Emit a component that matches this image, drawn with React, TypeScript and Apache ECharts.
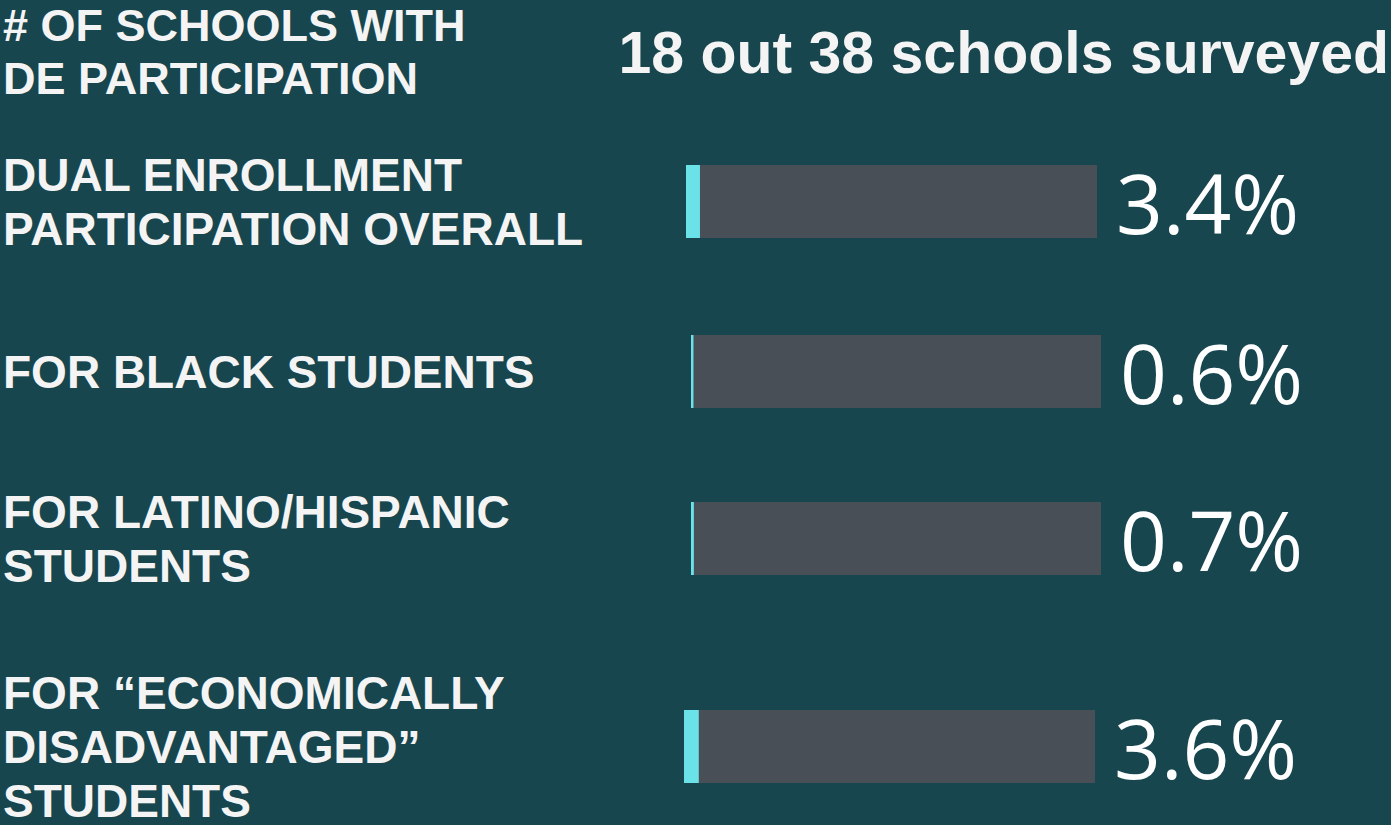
import React, { useEffect, useRef } from "react";
import * as echarts from "echarts";

const categories = [
  "DUAL ENROLLMENT\nPARTICIPATION OVERALL",
  "FOR BLACK STUDENTS",
  "FOR LATINO/HISPANIC\nSTUDENTS",
  "FOR \u201CECONOMICALLY\nDISADVANTAGED\u201D\nSTUDENTS",
];
const values = [3.4, 0.6, 0.7, 3.6];
const axisMax = 100;
const headerLines = ["# OF SCHOOLS WITH", "DE PARTICIPATION"];
const schoolsWithDE = 18;
const schoolsSurveyed = 38;

// layout only
const gridBoxes = [
  { left: 686, top: 165, width: 411 },
  { left: 691, top: 335, width: 410 },
  { left: 691, top: 502, width: 410 },
  { left: 684, top: 710, width: 411 },
];
const BAR_H = 73;

const BG = "#17464f";
const GREY = "#484f57";
const CYAN = "#6ae2e8";
const TEXT = "#f4f4f4";

export default function App() {
  const ref = useRef<HTMLDivElement>(null);
  useEffect(() => {
    if (!ref.current) return;
    const chart = echarts.init(ref.current, undefined, { renderer: "svg" });
    const grids: any[] = [];
    const xAxes: any[] = [];
    const yAxes: any[] = [];
    const series: any[] = [];
    categories.forEach((cat, i) => {
      const g = gridBoxes[i];
      grids.push({
        left: g.left,
        top: g.top,
        width: g.width,
        height: BAR_H,
        outerBoundsMode: "none",
        containLabel: false,
      });
      xAxes.push({
        gridIndex: i,
        type: "value",
        min: 0,
        max: axisMax,
        show: false,
      });
      yAxes.push({
        gridIndex: i,
        type: "category",
        data: [cat],
        position: "left",
        axisLine: { show: false },
        axisTick: { show: false },
        splitLine: { show: false },
        axisLabel: {
          margin: g.left - 3,
          align: "left",
          color: TEXT,
          fontFamily: "Liberation Sans",
          fontWeight: "bold",
          fontSize: 46,
          lineHeight: 54,
        },
      });
      yAxes.push({
        gridIndex: i,
        type: "category",
        data: [cat],
        position: "right",
        axisLine: { show: false },
        axisTick: { show: false },
        splitLine: { show: false },
        axisLabel: {
          margin: 19,
          align: "left",
          color: "#ffffff",
          fontFamily: "Open Sans",
          fontWeight: 400,
          fontSize: 82,
          formatter: () => `${values[i]}%`,
        },
      });
      series.push({
        type: "bar",
        xAxisIndex: i,
        yAxisIndex: i * 2,
        data: [values[i]],
        barWidth: BAR_H,
        itemStyle: { color: CYAN },
        showBackground: true,
        backgroundStyle: { color: GREY },
      });
    });
    chart.setOption({
      animation: false,
      backgroundColor: BG,
      grid: grids,
      xAxis: xAxes,
      yAxis: yAxes,
      series,
      graphic: [
        ...headerLines.map((line, k) => ({
          type: "text",
          left: 3,
          top: 3 + k * 53,
          style: {
            text: line,
            fill: TEXT,
            font: "bold 45px 'Liberation Sans'",
          },
        })),
        {
          type: "text",
          right: 2,
          top: 23,
          style: {
            text: `${schoolsWithDE} out ${schoolsSurveyed} schools surveyed`,
            fill: TEXT,
            font: "bold 59px 'Liberation Sans'",
          },
        },
      ],
    });
    return () => chart.dispose();
  }, []);
  return (
    <div
      ref={ref}
      style={{ position: "fixed", left: 0, top: 0, width: 1391, height: 825 }}
    />
  );
}
